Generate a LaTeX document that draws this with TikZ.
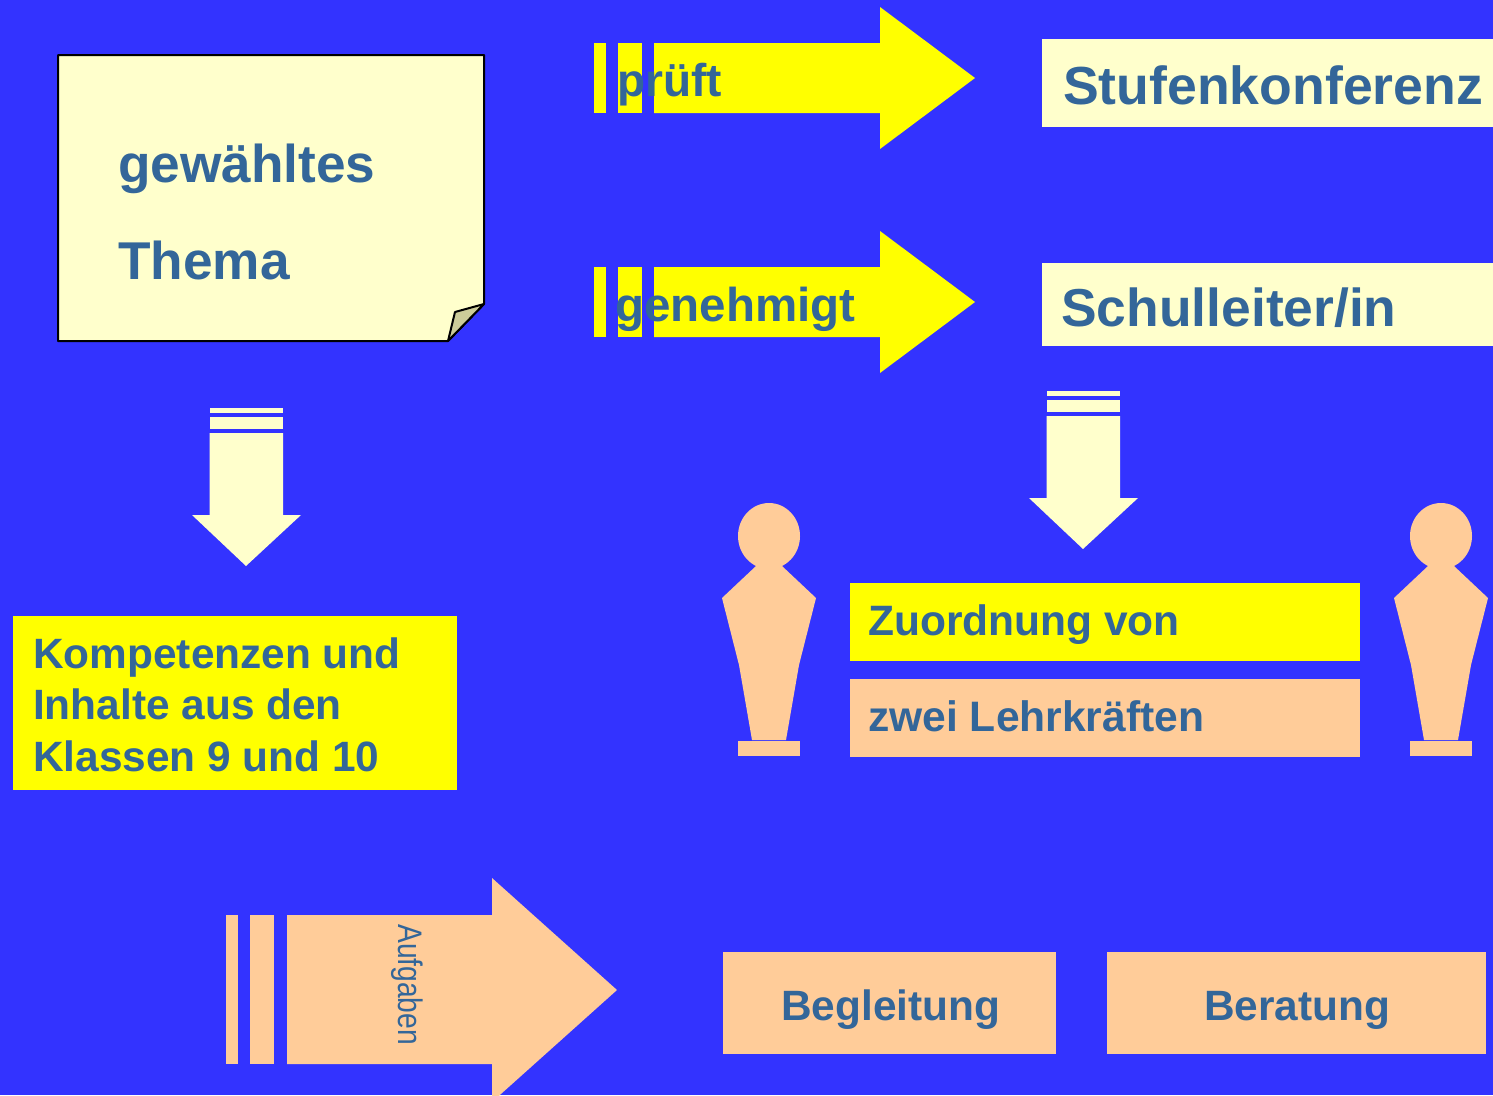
\documentclass[tikz,border=0pt]{standalone}
\usepackage{fontspec}
\setmainfont{Liberation Sans}
\definecolor{bluebg}{HTML}{3333FF}
\definecolor{paleyel}{HTML}{FFFFCC}
\definecolor{pureyel}{HTML}{FFFF00}
\definecolor{peach}{HTML}{FFCC99}
\definecolor{foldcol}{HTML}{CCCC99}
\definecolor{textblue}{HTML}{336699}
\tikzset{
  txt/.style={inner sep=0pt,text=textblue,font=\bfseries\fontsize{#1}{#1}\selectfont,anchor=base west},
  multitxt/.style 2 args={inner sep=0pt,text=textblue,align=left,font=\bfseries\fontsize{#1}{#2}\selectfont,anchor=base west}
}
\begin{document}
\begin{tikzpicture}[x=1pt,y=-1pt]
            \clip (0,0) rectangle (1493,1095);
            \fill[bluebg] (0,0) rectangle (1493,1095);
            \draw[black,line width=2pt,fill=paleyel,line join=round] (58,55) -- (484,55) -- (484,304) -- (448,341) -- (58,341) -- cycle;
            \draw[black,line width=2pt,fill=foldcol,line join=round] (448,341) -- (455,312) -- (484,304) -- cycle;
            \node[multitxt={53.2}{97}] (thema) at (118,279) {gewähltes\\Thema};
            \foreach \y in {0,224} {
              \fill[pureyel] (594,43+\y) rectangle (606,113+\y);
              \fill[pureyel] (618,43+\y) rectangle (642,113+\y);
              \fill[pureyel] (654,43+\y) -- (880,43+\y) -- (880,7+\y) -- (975,78+\y) -- (880,149+\y) -- (880,113+\y) -- (654,113+\y) -- cycle;
            }
            \node[txt=46] (prueft) at (617,96.5) {prüft};
            \node[txt=47.5] (genehmigt) at (615,321) {genehmigt};
            \fill[paleyel] (1042,39) rectangle (1493,127);
            \fill[paleyel] (1042,263) rectangle (1493,346);
            \node[txt=53.6] (stufe) at (1063,104) {Stufenkonferenz};
            \node[txt=53.4] (leiter) at (1061,326) {Schulleiter/in};
            \foreach \x/\y in {0/0,837/-17} {
              \fill[paleyel] (209.5+\x,408+\y) rectangle (283+\x,413+\y);
              \fill[paleyel] (209.5+\x,417+\y) rectangle (283+\x,429+\y);
              \fill[paleyel] (209.5+\x,433+\y) -- (283+\x,433+\y) -- (283+\x,515+\y) -- (301+\x,515+\y) -- (246+\x,566+\y) -- (192+\x,515+\y) -- (209.5+\x,515+\y) -- cycle;
            }
            \fill[pureyel] (13,616) rectangle (457,790);
            \node[multitxt={42.4}{51.5}] (inhalte) at (33,771) {Kompetenzen und\\Inhalte aus den\\Klassen 9 und 10};
            \foreach \x in {0,672} {
              \fill[peach] (769+\x,536) ellipse [x radius=31,y radius=33];
              \fill[peach] (756+\x,566) -- (722+\x,598) -- (739+\x,665) -- (752+\x,740) -- (786+\x,740) -- (799+\x,665) -- (816+\x,598) -- (782+\x,566) -- cycle;
              \fill[peach] (738+\x,741) rectangle (800+\x,756);
            }
            \fill[pureyel] (850,583) rectangle (1360,661);
            \fill[peach] (850,679) rectangle (1360,757);
            \node[txt=42.5] (zuordnung) at (868,635.5) {Zuordnung von};
            \node[txt=42.6] (lehrer) at (868,731.5) {zwei Lehrkräften};
            \fill[peach] (226,915) rectangle (238,1064);
            \fill[peach] (250,915) rectangle (274,1064);
            \fill[peach] (287,915) -- (492,915) -- (492,878) -- (617,990) -- (492,1102) -- (492,1064) -- (287,1064) -- cycle;
            \node[inner sep=0pt,text=textblue,font=\fontsize{34}{34}\selectfont,rotate=-90,anchor=base west] (aufgaben) at (398,924) {\scalebox{.83}[1]{Aufgaben}};
            \fill[peach] (723,952) rectangle (1056,1054);
            \fill[peach] (1107,952) rectangle (1486,1054);
            \node[txt=42.4] (begleitung) at (781,1020.5) {Begleitung};
            \node[txt=42.4] (beratung) at (1204,1020.5) {Beratung};
\end{tikzpicture}
\end{document}
